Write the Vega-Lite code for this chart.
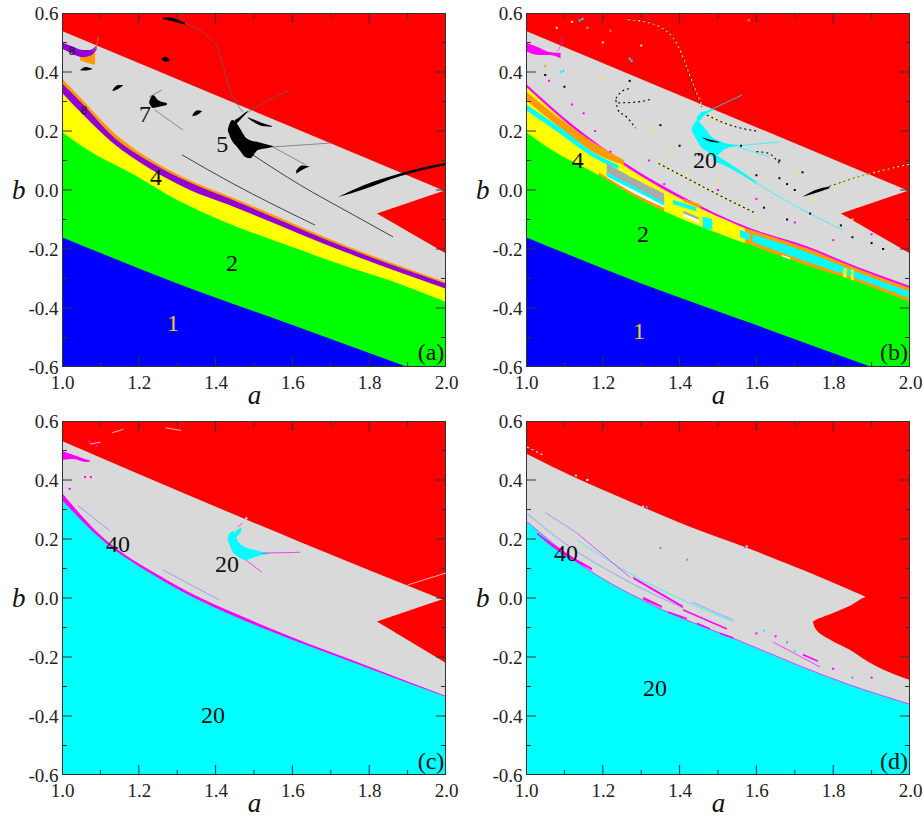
{"$schema":"https://vega.github.io/schema/vega-lite/v6.json","background":"white","padding":{"left":11,"top":4,"right":0,"bottom":0},"config":{"view":{"stroke":null},"header":{"labels":false,"title":null,"labelFontSize":0,"labelPadding":0,"titleFontSize":0,"titlePadding":0,"labelColor":"transparent"},"facet":{"spacing":0},"axis":{"labelFont":"Liberation Serif","titleFont":"Liberation Serif","labelFontSize":19,"titleFontSize":27,"titleFontStyle":"italic","titleFontWeight":"normal","labelColor":"#222","titleColor":"#111","ticks":true,"tickColor":"#000000","domainColor":"#555555","grid":false}},"transform":[{"flatten":["p"]}],"data":{"values":[
{"p":"a","r":"region","i":"a0","k":"div","a":1,"l":-0.6,"h":0.6},{"p":"a","r":"region","i":"a0","k":"div","a":2,"l":-0.6,"h":0.6},
{"p":"a","r":"region","i":"a1","k":"chaos","a":1,"l":-0.6,"h":0.539},{"p":"a","r":"region","i":"a1","k":"chaos","a":2,"l":-0.6,"h":-0.005},
{"p":"a","r":"region","i":"a2","k":"div","a":1.82,"l":-0.08,"h":-0.08},{"p":"a","r":"region","i":"a2","k":"div","a":2,"l":-0.215,"h":0.0},
{"p":"a","r":"region","i":"a3","k":"p16","a":1,"l":-0.6,"h":0.378},{"p":"a","r":"region","i":"a3","k":"p16","a":1.055,"l":-0.6,"h":0.303},{"p":"a","r":"region","i":"a3","k":"p16","a":1.13,"l":-0.6,"h":0.2},{"p":"a","r":"region","i":"a3","k":"p16","a":1.229,"l":-0.6,"h":0.105},{"p":"a","r":"region","i":"a3","k":"p16","a":1.33,"l":-0.6,"h":0.035},{"p":"a","r":"region","i":"a3","k":"p16","a":1.4375,"l":-0.6,"h":-0.022},{"p":"a","r":"region","i":"a3","k":"p16","a":1.742,"l":-0.6,"h":-0.19},{"p":"a","r":"region","i":"a3","k":"p16","a":2,"l":-0.6,"h":-0.312},
{"p":"a","r":"region","i":"a4","k":"p8","a":1,"l":-0.6,"h":0.362},{"p":"a","r":"region","i":"a4","k":"p8","a":1.055,"l":-0.6,"h":0.29},{"p":"a","r":"region","i":"a4","k":"p8","a":1.13,"l":-0.6,"h":0.185},{"p":"a","r":"region","i":"a4","k":"p8","a":1.229,"l":-0.6,"h":0.095},{"p":"a","r":"region","i":"a4","k":"p8","a":1.33,"l":-0.6,"h":0.027},{"p":"a","r":"region","i":"a4","k":"p8","a":1.4375,"l":-0.6,"h":-0.03},{"p":"a","r":"region","i":"a4","k":"p8","a":1.742,"l":-0.6,"h":-0.197},{"p":"a","r":"region","i":"a4","k":"p8","a":2,"l":-0.6,"h":-0.318},
{"p":"a","r":"region","i":"a5","k":"p4","a":1,"l":-0.6,"h":0.33},{"p":"a","r":"region","i":"a5","k":"p4","a":1.055,"l":-0.6,"h":0.255},{"p":"a","r":"region","i":"a5","k":"p4","a":1.13,"l":-0.6,"h":0.162},{"p":"a","r":"region","i":"a5","k":"p4","a":1.229,"l":-0.6,"h":0.072},{"p":"a","r":"region","i":"a5","k":"p4","a":1.33,"l":-0.6,"h":0.002},{"p":"a","r":"region","i":"a5","k":"p4","a":1.4375,"l":-0.6,"h":-0.052},{"p":"a","r":"region","i":"a5","k":"p4","a":1.742,"l":-0.6,"h":-0.213},{"p":"a","r":"region","i":"a5","k":"p4","a":2,"l":-0.6,"h":-0.335},
{"p":"a","r":"region","i":"a6","k":"p2","a":1,"l":-0.6,"h":0.197},{"p":"a","r":"region","i":"a6","k":"p2","a":1.055,"l":-0.6,"h":0.146},{"p":"a","r":"region","i":"a6","k":"p2","a":1.19,"l":-0.6,"h":0.05},{"p":"a","r":"region","i":"a6","k":"p2","a":1.3,"l":-0.6,"h":-0.034},{"p":"a","r":"region","i":"a6","k":"p2","a":1.4375,"l":-0.6,"h":-0.115},{"p":"a","r":"region","i":"a6","k":"p2","a":1.583,"l":-0.6,"h":-0.186},{"p":"a","r":"region","i":"a6","k":"p2","a":1.73,"l":-0.6,"h":-0.254},{"p":"a","r":"region","i":"a6","k":"p2","a":1.862,"l":-0.6,"h":-0.31},{"p":"a","r":"region","i":"a6","k":"p2","a":2,"l":-0.6,"h":-0.38},
{"p":"a","r":"region","i":"a7","k":"p1","a":1,"l":-0.6,"h":-0.16},{"p":"a","r":"region","i":"a7","k":"p1","a":1.297,"l":-0.6,"h":-0.315},{"p":"a","r":"region","i":"a7","k":"p1","a":1.6,"l":-0.6,"h":-0.458},{"p":"a","r":"region","i":"a7","k":"p1","a":1.9,"l":-0.6,"h":-0.6},
{"p":"a","r":"region","i":"a8","k":"p16","a":1.047,"l":0.44,"h":0.46},{"p":"a","r":"region","i":"a8","k":"p16","a":1.068,"l":0.43,"h":0.47},{"p":"a","r":"region","i":"a8","k":"p16","a":1.086,"l":0.425,"h":0.47},
{"p":"a","r":"region","i":"a9","k":"p8","a":1,"l":0.48,"h":0.5},{"p":"a","r":"region","i":"a9","k":"p8","a":1.021,"l":0.465,"h":0.49},{"p":"a","r":"region","i":"a9","k":"p8","a":1.055,"l":0.45,"h":0.475},{"p":"a","r":"region","i":"a9","k":"p8","a":1.073,"l":0.455,"h":0.475},{"p":"a","r":"region","i":"a9","k":"p8","a":1.09,"l":0.475,"h":0.49},
{"p":"a","r":"region","i":"a10","k":"p5","a":1.432,"l":0.2,"h":0.207},{"p":"a","r":"region","i":"a10","k":"p5","a":1.443,"l":0.166,"h":0.237},{"p":"a","r":"region","i":"a10","k":"p5","a":1.456,"l":0.146,"h":0.225},{"p":"a","r":"region","i":"a10","k":"p5","a":1.466,"l":0.129,"h":0.203},{"p":"a","r":"region","i":"a10","k":"p5","a":1.477,"l":0.112,"h":0.18},{"p":"a","r":"region","i":"a10","k":"p5","a":1.49,"l":0.108,"h":0.169},{"p":"a","r":"region","i":"a10","k":"p5","a":1.51,"l":0.136,"h":0.163},{"p":"a","r":"region","i":"a10","k":"p5","a":1.529,"l":0.141,"h":0.156},{"p":"a","r":"region","i":"a10","k":"p5","a":1.549,"l":0.146,"h":0.149},
{"p":"a","r":"region","i":"a11","k":"p5","a":1.45,"l":0.22,"h":0.237},{"p":"a","r":"region","i":"a11","k":"p5","a":1.466,"l":0.241,"h":0.251},{"p":"a","r":"region","i":"a11","k":"p5","a":1.477,"l":0.256,"h":0.263},{"p":"a","r":"region","i":"a11","k":"p5","a":1.484,"l":0.264,"h":0.268},
{"p":"a","r":"region","i":"a12","k":"p5","a":1.484,"l":0.244,"h":0.247},{"p":"a","r":"region","i":"a12","k":"p5","a":1.503,"l":0.227,"h":0.237},{"p":"a","r":"region","i":"a12","k":"p5","a":1.521,"l":0.217,"h":0.227},{"p":"a","r":"region","i":"a12","k":"p5","a":1.547,"l":0.214,"h":0.217},
{"p":"a","r":"region","i":"a13","k":"p5","a":1.227,"l":0.295,"h":0.3},{"p":"a","r":"region","i":"a13","k":"p5","a":1.237,"l":0.278,"h":0.322},{"p":"a","r":"region","i":"a13","k":"p5","a":1.25,"l":0.281,"h":0.305},{"p":"a","r":"region","i":"a13","k":"p5","a":1.273,"l":0.288,"h":0.295},
{"p":"a","r":"region","i":"a14","k":"p5","a":1.719,"l":-0.024,"h":-0.024},{"p":"a","r":"region","i":"a14","k":"p5","a":1.784,"l":0.002,"h":0.015},{"p":"a","r":"region","i":"a14","k":"p5","a":1.88,"l":0.047,"h":0.056},{"p":"a","r":"region","i":"a14","k":"p5","a":2,"l":0.085,"h":0.092},
{"p":"a","r":"region","i":"a15","k":"p5","a":1.263,"l":0.58,"h":0.585},{"p":"a","r":"region","i":"a15","k":"p5","a":1.28,"l":0.575,"h":0.585},{"p":"a","r":"region","i":"a15","k":"p5","a":1.32,"l":0.56,"h":0.566},
{"p":"a","r":"region","i":"b1","k":"p5","a":1.258,"l":0.444,"h":0.444},{"p":"a","r":"region","i":"b1","k":"p5","a":1.27,"l":0.435,"h":0.452},{"p":"a","r":"region","i":"b1","k":"p5","a":1.282,"l":0.44,"h":0.44},
{"p":"a","r":"region","i":"b2","k":"p5","a":1.048,"l":0.405,"h":0.408},{"p":"a","r":"region","i":"b2","k":"p5","a":1.0625,"l":0.405,"h":0.417},{"p":"a","r":"region","i":"b2","k":"p5","a":1.08,"l":0.41,"h":0.41},
{"p":"a","r":"region","i":"b3","k":"p5","a":1.132,"l":0.335,"h":0.34},{"p":"a","r":"region","i":"b3","k":"p5","a":1.146,"l":0.342,"h":0.356},{"p":"a","r":"region","i":"b3","k":"p5","a":1.16,"l":0.355,"h":0.355},
{"p":"a","r":"region","i":"b4","k":"p5","a":1.34,"l":0.25,"h":0.255},{"p":"a","r":"region","i":"b4","k":"p5","a":1.352,"l":0.254,"h":0.27},{"p":"a","r":"region","i":"b4","k":"p5","a":1.365,"l":0.268,"h":0.268},
{"p":"a","r":"region","i":"b5","k":"p5","a":1.61,"l":0.055,"h":0.066},{"p":"a","r":"region","i":"b5","k":"p5","a":1.625,"l":0.068,"h":0.083},{"p":"a","r":"region","i":"b5","k":"p5","a":1.645,"l":0.08,"h":0.08},
{"p":"a","r":"curve","i":"t1","k":"p5","a":1.3125,"b":0.119},{"p":"a","r":"curve","i":"t1","k":"p5","a":1.4375,"b":0.027},{"p":"a","r":"curve","i":"t1","k":"p5","a":1.659,"b":-0.119},
{"p":"a","r":"curve","i":"t2","k":"p5","a":1.49,"b":0.125},{"p":"a","r":"curve","i":"t2","k":"p5","a":1.62,"b":0.017},{"p":"a","r":"curve","i":"t2","k":"p5","a":1.75,"b":-0.078},{"p":"a","r":"curve","i":"t2","k":"p5","a":1.862,"b":-0.159},
{"p":"a","r":"curve","i":"t3","k":"faint","a":1.32,"b":0.565},{"p":"a","r":"curve","i":"t3","k":"faint","a":1.38,"b":0.52},{"p":"a","r":"curve","i":"t3","k":"faint","a":1.404,"b":0.485},{"p":"a","r":"curve","i":"t3","k":"faint","a":1.4375,"b":0.339},{"p":"a","r":"curve","i":"t3","k":"faint","a":1.471,"b":0.264},
{"p":"a","r":"curve","i":"t4","k":"faint","a":1.484,"b":0.264},{"p":"a","r":"curve","i":"t4","k":"faint","a":1.529,"b":0.298},{"p":"a","r":"curve","i":"t4","k":"faint","a":1.594,"b":0.339},
{"p":"a","r":"curve","i":"t5","k":"faint","a":1.549,"b":0.146},{"p":"a","r":"curve","i":"t5","k":"faint","a":1.698,"b":0.159},
{"p":"a","r":"curve","i":"t6","k":"faint","a":1.549,"b":0.146},{"p":"a","r":"curve","i":"t6","k":"faint","a":1.635,"b":0.085},
{"p":"a","r":"curve","i":"t7","k":"faint","a":1.242,"b":0.271},{"p":"a","r":"curve","i":"t7","k":"faint","a":1.315,"b":0.203},
{"p":"a","r":"curve","i":"t8","k":"faint","a":1.227,"b":0.315},{"p":"a","r":"curve","i":"t8","k":"faint","a":1.26,"b":0.339},
{"p":"a","r":"curve","i":"t9","k":"p16","a":1.08,"b":0.47},{"p":"a","r":"curve","i":"t9","k":"p16","a":1.09,"b":0.49},{"p":"a","r":"curve","i":"t9","k":"p16","a":1.095,"b":0.52},
{"p":"a","r":"label","t":"8","a":1.026,"b":0.47,"s":"small"},{"p":"a","r":"label","t":"8","a":1.057,"b":0.271,"s":"small"},{"p":"a","r":"label","t":"7","a":1.216,"b":0.254,"s":"big"},{"p":"a","r":"label","t":"5","a":1.417,"b":0.153,"s":"big"},{"p":"a","r":"label","t":"4","a":1.245,"b":0.04,"s":"big"},{"p":"a","r":"label","t":"2","a":1.443,"b":-0.25,"s":"big"},{"p":"a","r":"label","t":"1","a":1.289,"b":-0.454,"s":"big"},{"p":"a","r":"label","t":"(a)","a":1.961,"b":-0.553,"s":"big"},

{"p":"b","r":"region","i":"c0","k":"div","a":1,"l":-0.6,"h":0.6},{"p":"b","r":"region","i":"c0","k":"div","a":2,"l":-0.6,"h":0.6},
{"p":"b","r":"region","i":"c1","k":"chaos","a":1,"l":-0.6,"h":0.539},{"p":"b","r":"region","i":"c1","k":"chaos","a":2,"l":-0.6,"h":-0.005},
{"p":"b","r":"region","i":"c2","k":"div","a":1.82,"l":-0.08,"h":-0.08},{"p":"b","r":"region","i":"c2","k":"div","a":2,"l":-0.215,"h":0.0},
{"p":"b","r":"region","i":"c3","k":"p40","a":1,"l":-0.6,"h":0.36},{"p":"b","r":"region","i":"c3","k":"p40","a":1.128,"l":-0.6,"h":0.214},{"p":"b","r":"region","i":"c3","k":"p40","a":1.26,"l":-0.6,"h":0.09},{"p":"b","r":"region","i":"c3","k":"p40","a":1.39,"l":-0.6,"h":-0.01},{"p":"b","r":"region","i":"c3","k":"p40","a":1.583,"l":-0.6,"h":-0.129},{"p":"b","r":"region","i":"c3","k":"p40","a":1.73,"l":-0.6,"h":-0.19},{"p":"b","r":"region","i":"c3","k":"p40","a":1.862,"l":-0.6,"h":-0.26},{"p":"b","r":"region","i":"c3","k":"p40","a":2,"l":-0.6,"h":-0.325},
{"p":"b","r":"region","i":"c4","k":"p4","a":1,"l":-0.6,"h":0.35},{"p":"b","r":"region","i":"c4","k":"p4","a":1.128,"l":-0.6,"h":0.204},{"p":"b","r":"region","i":"c4","k":"p4","a":1.26,"l":-0.6,"h":0.08},{"p":"b","r":"region","i":"c4","k":"p4","a":1.39,"l":-0.6,"h":-0.02},{"p":"b","r":"region","i":"c4","k":"p4","a":1.6,"l":-0.6,"h":-0.145},
{"p":"b","r":"region","i":"c5","k":"p16","a":1.57,"l":-0.6,"h":-0.13},{"p":"b","r":"region","i":"c5","k":"p16","a":1.73,"l":-0.6,"h":-0.197},{"p":"b","r":"region","i":"c5","k":"p16","a":1.862,"l":-0.6,"h":-0.266},{"p":"b","r":"region","i":"c5","k":"p16","a":2,"l":-0.6,"h":-0.332},
{"p":"b","r":"region","i":"c6","k":"p20","a":1.59,"l":-0.6,"h":-0.15},{"p":"b","r":"region","i":"c6","k":"p20","a":1.73,"l":-0.6,"h":-0.21},{"p":"b","r":"region","i":"c6","k":"p20","a":1.862,"l":-0.6,"h":-0.278},{"p":"b","r":"region","i":"c6","k":"p20","a":2,"l":-0.6,"h":-0.345},
{"p":"b","r":"region","i":"c7","k":"p16","a":1.59,"l":-0.6,"h":-0.176},{"p":"b","r":"region","i":"c7","k":"p16","a":1.73,"l":-0.6,"h":-0.242},{"p":"b","r":"region","i":"c7","k":"p16","a":1.862,"l":-0.6,"h":-0.3},{"p":"b","r":"region","i":"c7","k":"p16","a":2,"l":-0.6,"h":-0.368},
{"p":"b","r":"region","i":"c8","k":"p16","a":1,"l":0.305,"h":0.335},{"p":"b","r":"region","i":"c8","k":"p16","a":1.086,"l":0.214,"h":0.244},{"p":"b","r":"region","i":"c8","k":"p16","a":1.174,"l":0.129,"h":0.163},{"p":"b","r":"region","i":"c8","k":"p16","a":1.255,"l":0.085,"h":0.102},
{"p":"b","r":"region","i":"c9","k":"p20","a":1,"l":0.27,"h":0.29},{"p":"b","r":"region","i":"c9","k":"p20","a":1.086,"l":0.193,"h":0.214},{"p":"b","r":"region","i":"c9","k":"p20","a":1.174,"l":0.112,"h":0.129},{"p":"b","r":"region","i":"c9","k":"p20","a":1.24,"l":0.07,"h":0.085},
{"p":"b","r":"region","i":"d1","k":"p32","a":1.21,"l":0.06,"h":0.09},{"p":"b","r":"region","i":"d1","k":"p32","a":1.28,"l":0.01,"h":0.04},{"p":"b","r":"region","i":"d1","k":"p32","a":1.36,"l":-0.045,"h":-0.012},
{"p":"b","r":"region","i":"d2","k":"p20","a":1.21,"l":0.045,"h":0.06},{"p":"b","r":"region","i":"d2","k":"p20","a":1.28,"l":-0.002,"h":0.012},{"p":"b","r":"region","i":"d2","k":"p20","a":1.36,"l":-0.056,"h":-0.042},
{"p":"b","r":"region","i":"d3","k":"p64","a":1.21,"l":0.03,"h":0.047},{"p":"b","r":"region","i":"d3","k":"p64","a":1.28,"l":-0.015,"h":0.0},{"p":"b","r":"region","i":"d3","k":"p64","a":1.36,"l":-0.068,"h":-0.053},
{"p":"b","r":"region","i":"d4","k":"p16","a":1.19,"l":0.03,"h":0.06},{"p":"b","r":"region","i":"d4","k":"p16","a":1.28,"l":-0.03,"h":-0.01},{"p":"b","r":"region","i":"d4","k":"p16","a":1.36,"l":-0.085,"h":-0.06},
{"p":"b","r":"region","i":"d5","k":"p20","a":1.383,"l":-0.048,"h":-0.034},{"p":"b","r":"region","i":"d5","k":"p20","a":1.443,"l":-0.072,"h":-0.058},
{"p":"b","r":"region","i":"d6","k":"p16","a":1.41,"l":-0.04,"h":-0.03},{"p":"b","r":"region","i":"d6","k":"p16","a":1.455,"l":-0.062,"h":-0.05},
{"p":"b","r":"region","i":"d7","k":"p32","a":1.41,"l":-0.08,"h":-0.07},{"p":"b","r":"region","i":"d7","k":"p32","a":1.45,"l":-0.102,"h":-0.092},
{"p":"b","r":"region","i":"d8","k":"p64","a":1.41,"l":-0.09,"h":-0.08},{"p":"b","r":"region","i":"d8","k":"p64","a":1.45,"l":-0.112,"h":-0.102},
{"p":"b","r":"region","i":"d9","k":"p20","a":1.46,"l":-0.13,"h":-0.09},{"p":"b","r":"region","i":"d9","k":"p20","a":1.485,"l":-0.135,"h":-0.098},
{"p":"b","r":"region","i":"d10","k":"p16","a":1.46,"l":-0.142,"h":-0.13},{"p":"b","r":"region","i":"d10","k":"p16","a":1.505,"l":-0.16,"h":-0.148},
{"p":"b","r":"region","i":"d11","k":"p20","a":1.557,"l":-0.16,"h":-0.135},{"p":"b","r":"region","i":"d11","k":"p20","a":1.583,"l":-0.172,"h":-0.148},
{"p":"b","r":"region","i":"d12","k":"p4","a":1.826,"l":-0.31,"h":-0.265},{"p":"b","r":"region","i":"d12","k":"p4","a":1.835,"l":-0.31,"h":-0.265},
{"p":"b","r":"region","i":"d13","k":"p4","a":1.846,"l":-0.32,"h":-0.27},{"p":"b","r":"region","i":"d13","k":"p4","a":1.853,"l":-0.32,"h":-0.27},
{"p":"b","r":"region","i":"d14","k":"p64","a":1.667,"l":-0.237,"h":-0.22},{"p":"b","r":"region","i":"d14","k":"p64","a":1.688,"l":-0.245,"h":-0.23},
{"p":"b","r":"region","i":"c10","k":"p2","a":1,"l":-0.6,"h":0.197},{"p":"b","r":"region","i":"c10","k":"p2","a":1.055,"l":-0.6,"h":0.146},{"p":"b","r":"region","i":"c10","k":"p2","a":1.19,"l":-0.6,"h":0.05},{"p":"b","r":"region","i":"c10","k":"p2","a":1.3,"l":-0.6,"h":-0.034},{"p":"b","r":"region","i":"c10","k":"p2","a":1.4375,"l":-0.6,"h":-0.115},{"p":"b","r":"region","i":"c10","k":"p2","a":1.583,"l":-0.6,"h":-0.186},{"p":"b","r":"region","i":"c10","k":"p2","a":1.73,"l":-0.6,"h":-0.254},{"p":"b","r":"region","i":"c10","k":"p2","a":1.862,"l":-0.6,"h":-0.31},{"p":"b","r":"region","i":"c10","k":"p2","a":2,"l":-0.6,"h":-0.38},
{"p":"b","r":"region","i":"c11","k":"p1","a":1,"l":-0.6,"h":-0.16},{"p":"b","r":"region","i":"c11","k":"p1","a":1.297,"l":-0.6,"h":-0.315},{"p":"b","r":"region","i":"c11","k":"p1","a":1.6,"l":-0.6,"h":-0.458},{"p":"b","r":"region","i":"c11","k":"p1","a":1.9,"l":-0.6,"h":-0.6},
{"p":"b","r":"region","i":"e1","k":"p40","a":1,"l":0.47,"h":0.5},{"p":"b","r":"region","i":"e1","k":"p40","a":1.03,"l":0.458,"h":0.485},{"p":"b","r":"region","i":"e1","k":"p40","a":1.06,"l":0.458,"h":0.468},{"p":"b","r":"region","i":"e1","k":"p40","a":1.09,"l":0.447,"h":0.464},
{"p":"b","r":"region","i":"e2","k":"p20","a":1.432,"l":0.2,"h":0.21},{"p":"b","r":"region","i":"e2","k":"p20","a":1.445,"l":0.169,"h":0.235},{"p":"b","r":"region","i":"e2","k":"p20","a":1.458,"l":0.142,"h":0.22},{"p":"b","r":"region","i":"e2","k":"p20","a":1.471,"l":0.132,"h":0.2},{"p":"b","r":"region","i":"e2","k":"p20","a":1.487,"l":0.112,"h":0.176},{"p":"b","r":"region","i":"e2","k":"p20","a":1.505,"l":0.125,"h":0.166},{"p":"b","r":"region","i":"e2","k":"p20","a":1.518,"l":0.139,"h":0.159},{"p":"b","r":"region","i":"e2","k":"p20","a":1.552,"l":0.149,"h":0.153},
{"p":"b","r":"region","i":"e3","k":"p20","a":1.445,"l":0.225,"h":0.245},{"p":"b","r":"region","i":"e3","k":"p20","a":1.458,"l":0.244,"h":0.264},{"p":"b","r":"region","i":"e3","k":"p20","a":1.471,"l":0.259,"h":0.268},{"p":"b","r":"region","i":"e3","k":"p20","a":1.487,"l":0.27,"h":0.276},
{"p":"b","r":"region","i":"e4","k":"p20","a":1.487,"l":0.1,"h":0.125},{"p":"b","r":"region","i":"e4","k":"p20","a":1.53,"l":0.075,"h":0.09},{"p":"b","r":"region","i":"e4","k":"p20","a":1.6,"l":0.02,"h":0.028},
{"p":"b","r":"region","i":"e5","k":"p5","a":1.457,"l":0.18,"h":0.18},{"p":"b","r":"region","i":"e5","k":"p5","a":1.48,"l":0.164,"h":0.17},{"p":"b","r":"region","i":"e5","k":"p5","a":1.503,"l":0.16,"h":0.163},
{"p":"b","r":"region","i":"e6","k":"p5","a":1.719,"l":-0.024,"h":-0.024},{"p":"b","r":"region","i":"e6","k":"p5","a":1.75,"l":-0.012,"h":-0.002},{"p":"b","r":"region","i":"e6","k":"p5","a":1.79,"l":0.006,"h":0.012},
{"p":"b","r":"curve","i":"u1","k":"p20","a":1.6,"b":0.024},{"p":"b","r":"curve","i":"u1","k":"p20","a":1.6875,"b":-0.044},{"p":"b","r":"curve","i":"u1","k":"p20","a":1.826,"b":-0.136},
{"p":"b","r":"curve","i":"u2","k":"p20","a":1.487,"b":0.276},{"p":"b","r":"curve","i":"u2","k":"p20","a":1.5625,"b":0.322},
{"p":"b","r":"curve","i":"u3","k":"p20","a":1.552,"b":0.15},{"p":"b","r":"curve","i":"u3","k":"p20","a":1.66,"b":0.163},
{"p":"b","r":"curve","i":"u4","k":"p20","a":1.552,"b":0.146},{"p":"b","r":"curve","i":"u4","k":"p20","a":1.635,"b":0.112},
{"p":"b","r":"dots","i":"v1","k":"p5","a":1.266,"b":0.58},{"p":"b","r":"dots","i":"v1","k":"p5","a":1.341,"b":0.56},{"p":"b","r":"dots","i":"v1","k":"p5","a":1.393,"b":0.498},{"p":"b","r":"dots","i":"v1","k":"p5","a":1.435,"b":0.349},{"p":"b","r":"dots","i":"v1","k":"p5","a":1.458,"b":0.281},
{"p":"b","r":"dots","i":"v2","k":"p4","a":1.266,"b":0.578},{"p":"b","r":"dots","i":"v2","k":"p4","a":1.341,"b":0.558},{"p":"b","r":"dots","i":"v2","k":"p4","a":1.393,"b":0.496},{"p":"b","r":"dots","i":"v2","k":"p4","a":1.438,"b":0.349},{"p":"b","r":"dots","i":"v2","k":"p4","a":1.46,"b":0.281},
{"p":"b","r":"dots","i":"v3","k":"p4","a":1.341,"b":0.092},{"p":"b","r":"dots","i":"v3","k":"p4","a":1.427,"b":0.034},{"p":"b","r":"dots","i":"v3","k":"p4","a":1.487,"b":-0.007},{"p":"b","r":"dots","i":"v3","k":"p4","a":1.6,"b":-0.078},
{"p":"b","r":"dots","i":"v4","k":"p5","a":1.345,"b":0.09},{"p":"b","r":"dots","i":"v4","k":"p5","a":1.43,"b":0.032},{"p":"b","r":"dots","i":"v4","k":"p5","a":1.49,"b":-0.009},{"p":"b","r":"dots","i":"v4","k":"p5","a":1.6,"b":-0.08},
{"p":"b","r":"dots","i":"v5","k":"p5","a":1.471,"b":0.254},{"p":"b","r":"dots","i":"v5","k":"p5","a":1.531,"b":0.22},{"p":"b","r":"dots","i":"v5","k":"p5","a":1.6,"b":0.2},
{"p":"b","r":"dots","i":"v6","k":"p4","a":1.475,"b":0.25},{"p":"b","r":"dots","i":"v6","k":"p4","a":1.535,"b":0.218},
{"p":"b","r":"dots","i":"v7","k":"p5","a":1.79,"b":0.012},{"p":"b","r":"dots","i":"v7","k":"p5","a":1.88,"b":0.05},{"p":"b","r":"dots","i":"v7","k":"p5","a":2,"b":0.09},
{"p":"b","r":"dots","i":"v8","k":"p4","a":1.792,"b":0.01},{"p":"b","r":"dots","i":"v8","k":"p4","a":1.882,"b":0.05},{"p":"b","r":"dots","i":"v8","k":"p4","a":2,"b":0.088},
{"p":"b","r":"dots","i":"v9","k":"p5","a":1.234,"b":0.305},{"p":"b","r":"dots","i":"v9","k":"p5","a":1.24,"b":0.27},{"p":"b","r":"dots","i":"v9","k":"p5","a":1.26,"b":0.25},{"p":"b","r":"dots","i":"v9","k":"p5","a":1.285,"b":0.21},
{"p":"b","r":"dots","i":"v10","k":"p5","a":1.234,"b":0.31},{"p":"b","r":"dots","i":"v10","k":"p5","a":1.25,"b":0.335},{"p":"b","r":"dots","i":"v10","k":"p5","a":1.275,"b":0.345},
{"p":"b","r":"dots","i":"v11","k":"p5","a":1.24,"b":0.295},{"p":"b","r":"dots","i":"v11","k":"p5","a":1.3,"b":0.3},{"p":"b","r":"dots","i":"v11","k":"p5","a":1.33,"b":0.31},
{"p":"b","r":"dots","i":"v12","k":"p5","a":1.6,"b":0.13},{"p":"b","r":"dots","i":"v12","k":"p5","a":1.63,"b":0.125},{"p":"b","r":"dots","i":"v12","k":"p5","a":1.66,"b":0.09},
{"p":"b","r":"curve","i":"v13","k":"p40","a":1.08,"b":0.47},{"p":"b","r":"curve","i":"v13","k":"p40","a":1.09,"b":0.49},{"p":"b","r":"curve","i":"v13","k":"p40","a":1.095,"b":0.52},
{"p":"b","r":"speck","k":"p5","a":1.05,"b":0.39},{"p":"b","r":"speck","k":"p5","a":1.1,"b":0.35},{"p":"b","r":"speck","k":"p5","a":1.27,"b":0.37},{"p":"b","r":"speck","k":"p5","a":1.35,"b":0.22},{"p":"b","r":"speck","k":"p5","a":1.4,"b":0.15},{"p":"b","r":"speck","k":"p5","a":1.45,"b":0.12},{"p":"b","r":"speck","k":"p5","a":1.56,"b":0.15},{"p":"b","r":"speck","k":"p5","a":1.66,"b":0.1},{"p":"b","r":"speck","k":"p5","a":1.72,"b":0.06},{"p":"b","r":"speck","k":"p5","a":1.6,"b":0.05},{"p":"b","r":"speck","k":"p5","a":1.66,"b":0.04},{"p":"b","r":"speck","k":"p5","a":1.68,"b":0.02},{"p":"b","r":"speck","k":"p5","a":1.7,"b":0.0},{"p":"b","r":"speck","k":"p5","a":1.62,"b":-0.06},{"p":"b","r":"speck","k":"p5","a":1.68,"b":-0.1},{"p":"b","r":"speck","k":"p5","a":1.74,"b":-0.08},{"p":"b","r":"speck","k":"p5","a":1.82,"b":-0.12},{"p":"b","r":"speck","k":"p5","a":1.85,"b":-0.16},{"p":"b","r":"speck","k":"p5","a":1.9,"b":-0.18},{"p":"b","r":"speck","k":"p5","a":1.93,"b":-0.2},
{"p":"b","r":"speck","k":"p40","a":1.18,"b":0.2},{"p":"b","r":"speck","k":"p40","a":1.22,"b":0.13},{"p":"b","r":"speck","k":"p40","a":1.32,"b":0.1},{"p":"b","r":"speck","k":"p40","a":1.36,"b":0.02},{"p":"b","r":"speck","k":"p40","a":1.5,"b":0.0},{"p":"b","r":"speck","k":"p40","a":1.6,"b":-0.03},{"p":"b","r":"speck","k":"p40","a":1.7,"b":-0.11},{"p":"b","r":"speck","k":"p40","a":1.8,"b":-0.17},{"p":"b","r":"speck","k":"p40","a":1.12,"b":0.29},{"p":"b","r":"speck","k":"p40","a":1.15,"b":0.26},{"p":"b","r":"speck","k":"p40","a":1.9,"b":-0.15},{"p":"b","r":"speck","k":"p40","a":1.06,"b":0.37},
{"p":"b","r":"speck","k":"p4","a":1.33,"b":0.21},{"p":"b","r":"speck","k":"p4","a":1.2,"b":0.38},{"p":"b","r":"speck","k":"p4","a":1.38,"b":0.12},{"p":"b","r":"speck","k":"p4","a":1.42,"b":0.05},{"p":"b","r":"speck","k":"p4","a":1.5,"b":0.03},{"p":"b","r":"speck","k":"p4","a":1.7,"b":0.06},{"p":"b","r":"speck","k":"p4","a":1.75,"b":-0.04},{"p":"b","r":"speck","k":"p4","a":1.6,"b":-0.1},{"p":"b","r":"speck","k":"p4","a":1.85,"b":-0.1},{"p":"b","r":"speck","k":"p4","a":1.08,"b":0.55},{"p":"b","r":"speck","k":"p4","a":1.12,"b":0.57},{"p":"b","r":"speck","k":"p4","a":1.2,"b":0.5},{"p":"b","r":"speck","k":"p4","a":1.3,"b":0.49},{"p":"b","r":"speck","k":"p16","a":1.16,"b":0.55},{"p":"b","r":"speck","k":"p16","a":1.22,"b":0.54},{"p":"b","r":"speck","k":"p16","a":1.58,"b":0.575},{"p":"b","r":"speck","k":"p16","a":1.05,"b":0.42},
{"p":"b","r":"speck","k":"p20","a":1.14,"b":0.575},{"p":"b","r":"speck","k":"p20","a":1.147,"b":0.58},{"p":"b","r":"speck","k":"p20","a":1.27,"b":0.445},{"p":"b","r":"speck","k":"p20","a":1.275,"b":0.438},{"p":"b","r":"speck","k":"p20","a":1.09,"b":0.4},{"p":"b","r":"speck","k":"p20","a":1.097,"b":0.403},
{"p":"b","r":"label","t":"4","a":1.135,"b":0.098,"s":"big"},{"p":"b","r":"label","t":"20","a":1.466,"b":0.098,"s":"big"},{"p":"b","r":"label","t":"2","a":1.305,"b":-0.153,"s":"big"},{"p":"b","r":"label","t":"1","a":1.294,"b":-0.48,"s":"big"},{"p":"b","r":"label","t":"(b)","a":1.958,"b":-0.553,"s":"big"},

{"p":"c","r":"region","i":"f0","k":"div","a":1,"l":-0.6,"h":0.6},{"p":"c","r":"region","i":"f0","k":"div","a":2,"l":-0.6,"h":0.6},
{"p":"c","r":"region","i":"f1","k":"chaos","a":1,"l":-0.6,"h":0.532},{"p":"c","r":"region","i":"f1","k":"chaos","a":1.62,"l":-0.6,"h":0.19},{"p":"c","r":"region","i":"f1","k":"chaos","a":2,"l":-0.6,"h":-0.01},
{"p":"c","r":"region","i":"f2","k":"div","a":1.82,"l":-0.08,"h":-0.08},{"p":"c","r":"region","i":"f2","k":"div","a":2,"l":-0.22,"h":0.0},
{"p":"c","r":"region","i":"f3","k":"p40","a":1,"l":-0.6,"h":0.356},{"p":"c","r":"region","i":"f3","k":"p40","a":1.099,"l":-0.6,"h":0.214},{"p":"c","r":"region","i":"f3","k":"p40","a":1.273,"l":-0.6,"h":0.061},{"p":"c","r":"region","i":"f3","k":"p40","a":1.534,"l":-0.6,"h":-0.098},{"p":"c","r":"region","i":"f3","k":"p40","a":1.75,"l":-0.6,"h":-0.208},{"p":"c","r":"region","i":"f3","k":"p40","a":2,"l":-0.6,"h":-0.332},
{"p":"c","r":"region","i":"f4","k":"p20","a":1,"l":-0.6,"h":0.332},{"p":"c","r":"region","i":"f4","k":"p20","a":1.099,"l":-0.6,"h":0.203},{"p":"c","r":"region","i":"f4","k":"p20","a":1.273,"l":-0.6,"h":0.051},{"p":"c","r":"region","i":"f4","k":"p20","a":1.534,"l":-0.6,"h":-0.108},{"p":"c","r":"region","i":"f4","k":"p20","a":1.75,"l":-0.6,"h":-0.214},{"p":"c","r":"region","i":"f4","k":"p20","a":2,"l":-0.6,"h":-0.335},
{"p":"c","r":"region","i":"f5","k":"p40","a":1,"l":0.468,"h":0.498},{"p":"c","r":"region","i":"f5","k":"p40","a":1.03,"l":0.471,"h":0.485},{"p":"c","r":"region","i":"f5","k":"p40","a":1.06,"l":0.461,"h":0.471},{"p":"c","r":"region","i":"f5","k":"p40","a":1.073,"l":0.463,"h":0.466},
{"p":"c","r":"region","i":"f6","k":"p20","a":1.432,"l":0.197,"h":0.21},{"p":"c","r":"region","i":"f6","k":"p20","a":1.445,"l":0.156,"h":0.227},{"p":"c","r":"region","i":"f6","k":"p20","a":1.456,"l":0.142,"h":0.197},{"p":"c","r":"region","i":"f6","k":"p20","a":1.477,"l":0.129,"h":0.173},{"p":"c","r":"region","i":"f6","k":"p20","a":1.503,"l":0.139,"h":0.163},{"p":"c","r":"region","i":"f6","k":"p20","a":1.52,"l":0.146,"h":0.156},{"p":"c","r":"region","i":"f6","k":"p20","a":1.54,"l":0.15,"h":0.153},
{"p":"c","r":"region","i":"f7","k":"p20","a":1.45,"l":0.2,"h":0.225},{"p":"c","r":"region","i":"f7","k":"p20","a":1.467,"l":0.225,"h":0.24},
{"p":"c","r":"curve","i":"g1","k":"p40","a":1.52,"b":0.152},{"p":"c","r":"curve","i":"g1","k":"p40","a":1.62,"b":0.155},
{"p":"c","r":"curve","i":"g2","k":"p40","a":1.477,"b":0.13},{"p":"c","r":"curve","i":"g2","k":"p40","a":1.52,"b":0.088},
{"p":"c","r":"curve","i":"g3","k":"p40","a":1.458,"b":0.24},{"p":"c","r":"curve","i":"g3","k":"p40","a":1.47,"b":0.255},
{"p":"c","r":"curve","i":"g4","k":"mix","a":1.04,"b":0.315},{"p":"c","r":"curve","i":"g4","k":"mix","a":1.125,"b":0.227},
{"p":"c","r":"curve","i":"g5","k":"mix","a":1.263,"b":0.095},{"p":"c","r":"curve","i":"g5","k":"mix","a":1.41,"b":-0.007},
{"p":"c","r":"curve","i":"g6","k":"p64","a":1.9,"b":0.044},{"p":"c","r":"curve","i":"g6","k":"p64","a":2,"b":0.085},
{"p":"c","r":"curve","i":"g7","k":"p64","a":1.13,"b":0.56},{"p":"c","r":"curve","i":"g7","k":"p64","a":1.16,"b":0.572},
{"p":"c","r":"curve","i":"g8","k":"p64","a":1.27,"b":0.577},{"p":"c","r":"curve","i":"g8","k":"p64","a":1.31,"b":0.568},
{"p":"c","r":"curve","i":"g9","k":"p64","a":1.073,"b":0.522},{"p":"c","r":"curve","i":"g9","k":"p64","a":1.1,"b":0.528},
{"p":"c","r":"speck","k":"p40","a":1.07,"b":0.53},{"p":"c","r":"speck","k":"p40","a":1.09,"b":0.515},{"p":"c","r":"speck","k":"p40","a":1.06,"b":0.41},{"p":"c","r":"speck","k":"p40","a":1.075,"b":0.41},{"p":"c","r":"speck","k":"p40","a":1.02,"b":0.37},{"p":"c","r":"speck","k":"p64","a":1.48,"b":0.27},
{"p":"c","r":"label","t":"40","a":1.146,"b":0.18,"s":"big"},{"p":"c","r":"label","t":"20","a":1.43,"b":0.112,"s":"big"},{"p":"c","r":"label","t":"20","a":1.393,"b":-0.4,"s":"big"},{"p":"c","r":"label","t":"(c)","a":1.961,"b":-0.556,"s":"big"},

{"p":"d","r":"region","i":"h0","k":"div","a":1,"l":-0.6,"h":0.6},{"p":"d","r":"region","i":"h0","k":"div","a":2,"l":-0.6,"h":0.6},
{"p":"d","r":"region","i":"h1","k":"chaos","a":1,"l":-0.6,"h":0.49},{"p":"d","r":"region","i":"h1","k":"chaos","a":1.07,"l":-0.6,"h":0.444},{"p":"d","r":"region","i":"h1","k":"chaos","a":1.305,"l":-0.6,"h":0.308},{"p":"d","r":"region","i":"h1","k":"chaos","a":1.435,"l":-0.6,"h":0.237},{"p":"d","r":"region","i":"h1","k":"chaos","a":1.575,"l":-0.6,"h":0.17},{"p":"d","r":"region","i":"h1","k":"chaos","a":1.844,"l":-0.6,"h":0.027},{"p":"d","r":"region","i":"h1","k":"chaos","a":1.89,"l":-0.6,"h":0.0},{"p":"d","r":"region","i":"h1","k":"chaos","a":2,"l":-0.6,"h":-0.1},
{"p":"d","r":"region","i":"h2","k":"div","a":1.747,"l":-0.08,"h":-0.08},{"p":"d","r":"region","i":"h2","k":"div","a":1.752,"l":-0.1,"h":-0.076},{"p":"d","r":"region","i":"h2","k":"div","a":1.79,"l":-0.14,"h":-0.056},{"p":"d","r":"region","i":"h2","k":"div","a":1.844,"l":-0.176,"h":-0.026},{"p":"d","r":"region","i":"h2","k":"div","a":1.89,"l":-0.215,"h":0.005},{"p":"d","r":"region","i":"h2","k":"div","a":2,"l":-0.278,"h":0.01},
{"p":"d","r":"region","i":"h3","k":"p20","a":1,"l":-0.6,"h":0.26},{"p":"d","r":"region","i":"h3","k":"p20","a":1.158,"l":-0.6,"h":0.1},{"p":"d","r":"region","i":"h3","k":"p20","a":1.33,"l":-0.6,"h":-0.024},{"p":"d","r":"region","i":"h3","k":"p20","a":1.55,"l":-0.6,"h":-0.142},{"p":"d","r":"region","i":"h3","k":"p20","a":1.844,"l":-0.6,"h":-0.295},{"p":"d","r":"region","i":"h3","k":"p20","a":2,"l":-0.6,"h":-0.36},
{"p":"d","r":"region","i":"j1","k":"p40","a":1.029,"l":0.215,"h":0.222},{"p":"d","r":"region","i":"j1","k":"p40","a":1.096,"l":0.148,"h":0.16},{"p":"d","r":"region","i":"j1","k":"p40","a":1.172,"l":0.094,"h":0.102},
{"p":"d","r":"region","i":"j2","k":"p40","a":1.279,"l":0.064,"h":0.072},{"p":"d","r":"region","i":"j2","k":"p40","a":1.409,"l":-0.034,"h":-0.026},
{"p":"d","r":"region","i":"j3","k":"p40","a":1.305,"l":-0.005,"h":0.004},{"p":"d","r":"region","i":"j3","k":"p40","a":1.354,"l":-0.034,"h":-0.026},
{"p":"d","r":"region","i":"j4","k":"p40","a":1.409,"l":-0.043,"h":-0.037},{"p":"d","r":"region","i":"j4","k":"p40","a":1.523,"l":-0.108,"h":-0.102},
{"p":"d","r":"region","i":"j5","k":"p40","a":1.37,"l":-0.051,"h":-0.045},{"p":"d","r":"region","i":"j5","k":"p40","a":1.419,"l":-0.073,"h":-0.067},
{"p":"d","r":"region","i":"j6","k":"p40","a":1.445,"l":-0.089,"h":-0.083},{"p":"d","r":"region","i":"j6","k":"p40","a":1.479,"l":-0.108,"h":-0.102},
{"p":"d","r":"region","i":"j7","k":"p40","a":1.505,"l":-0.123,"h":-0.117},{"p":"d","r":"region","i":"j7","k":"p40","a":1.54,"l":-0.138,"h":-0.132},
{"p":"d","r":"region","i":"j8","k":"p40","a":1.721,"l":-0.195,"h":-0.189},{"p":"d","r":"region","i":"j8","k":"p40","a":1.76,"l":-0.217,"h":-0.211},
{"p":"d","r":"curve","i":"m1","k":"mix","a":1,"b":0.29},{"p":"d","r":"curve","i":"m1","k":"mix","a":1.096,"b":0.19},{"p":"d","r":"curve","i":"m1","k":"mix","a":1.245,"b":0.071},{"p":"d","r":"curve","i":"m1","k":"mix","a":1.409,"b":-0.034},
{"p":"d","r":"curve","i":"m2","k":"p20","a":1.133,"b":0.197},{"p":"d","r":"curve","i":"m2","k":"p20","a":1.245,"b":0.102},{"p":"d","r":"curve","i":"m2","k":"p20","a":1.42,"b":-0.014},{"p":"d","r":"curve","i":"m2","k":"p20","a":1.54,"b":-0.081},
{"p":"d","r":"curve","i":"m3","k":"p40","a":1.133,"b":0.22},{"p":"d","r":"curve","i":"m3","k":"p40","a":1.27,"b":0.071},
{"p":"d","r":"curve","i":"m4","k":"mix","a":1.432,"b":-0.014},{"p":"d","r":"curve","i":"m4","k":"mix","a":1.54,"b":-0.075},
{"p":"d","r":"curve","i":"m5","k":"p40","a":1.643,"b":-0.149},{"p":"d","r":"curve","i":"m5","k":"p40","a":1.766,"b":-0.234},
{"p":"d","r":"curve","i":"m6","k":"p40","a":1,"b":0.262},{"p":"d","r":"curve","i":"m6","k":"p40","a":1.158,"b":0.1},{"p":"d","r":"curve","i":"m6","k":"p40","a":1.33,"b":-0.024},{"p":"d","r":"curve","i":"m6","k":"p40","a":1.55,"b":-0.142},{"p":"d","r":"curve","i":"m6","k":"p40","a":1.844,"b":-0.295},{"p":"d","r":"curve","i":"m6","k":"p40","a":2,"b":-0.36},
{"p":"d","r":"curve","i":"m7","k":"mix","a":1.05,"b":0.29},{"p":"d","r":"curve","i":"m7","k":"mix","a":1.133,"b":0.22},
{"p":"d","r":"dots","i":"m8","k":"p64","a":1.003,"b":0.512},{"p":"d","r":"dots","i":"m8","k":"p64","a":1.044,"b":0.485},
{"p":"d","r":"speck","k":"chaos","a":1.305,"b":0.31},{"p":"d","r":"speck","k":"mix","a":1.315,"b":0.308},{"p":"d","r":"speck","k":"chaos","a":1.575,"b":0.175},{"p":"d","r":"speck","k":"mix","a":1.57,"b":0.172},{"p":"d","r":"speck","k":"chaos","a":1.13,"b":0.415},{"p":"d","r":"speck","k":"p64","a":1.16,"b":0.4},{"p":"d","r":"speck","k":"mix","a":1.42,"b":0.13},{"p":"d","r":"speck","k":"mix","a":1.35,"b":0.17},{"p":"d","r":"speck","k":"p40","a":1.6,"b":-0.12},{"p":"d","r":"speck","k":"p20","a":1.62,"b":-0.11},{"p":"d","r":"speck","k":"p40","a":1.65,"b":-0.13},{"p":"d","r":"speck","k":"mix","a":1.68,"b":-0.15},{"p":"d","r":"speck","k":"p20","a":1.7,"b":-0.18},{"p":"d","r":"speck","k":"p40","a":1.8,"b":-0.24},{"p":"d","r":"speck","k":"mix","a":1.85,"b":-0.27},{"p":"d","r":"speck","k":"p40","a":1.9,"b":-0.27},
{"p":"d","r":"label","t":"40","a":1.104,"b":0.149,"s":"big"},{"p":"d","r":"label","t":"20","a":1.336,"b":-0.308,"s":"big"},{"p":"d","r":"label","t":"(d)","a":1.958,"b":-0.556,"s":"big"},

{"p":["a","b","c","d"],"r":"region","i":"fb","k":"axis","a":1,"l":-0.6,"h":-0.597},{"p":["a","b","c","d"],"r":"region","i":"fb","k":"axis","a":2,"l":-0.6,"h":-0.597},
{"p":["a","b","c","d"],"r":"region","i":"ft","k":"axis","a":1,"l":0.597,"h":0.6},{"p":["a","b","c","d"],"r":"region","i":"ft","k":"axis","a":2,"l":0.597,"h":0.6},
{"p":["a","b","c","d"],"r":"region","i":"fl","k":"axis","a":1,"l":-0.6,"h":0.6},{"p":["a","b","c","d"],"r":"region","i":"fl","k":"axis","a":1.0026,"l":-0.6,"h":0.6},
{"p":["a","b","c","d"],"r":"region","i":"fr","k":"axis","a":1.9974,"l":-0.6,"h":0.6},{"p":["a","b","c","d"],"r":"region","i":"fr","k":"axis","a":2,"l":-0.6,"h":0.6},
{"p":["a","b","c","d"],"r":"region","i":"xb1","k":"axis","a":1.0987,"l":-0.6,"h":-0.583},{"p":["a","b","c","d"],"r":"region","i":"xb1","k":"axis","a":1.1013,"l":-0.6,"h":-0.583},
{"p":["a","b","c","d"],"r":"region","i":"xb2","k":"axis","a":1.1987,"l":-0.6,"h":-0.566},{"p":["a","b","c","d"],"r":"region","i":"xb2","k":"axis","a":1.2013,"l":-0.6,"h":-0.566},
{"p":["a","b","c","d"],"r":"region","i":"xb3","k":"axis","a":1.2987,"l":-0.6,"h":-0.583},{"p":["a","b","c","d"],"r":"region","i":"xb3","k":"axis","a":1.3013,"l":-0.6,"h":-0.583},
{"p":["a","b","c","d"],"r":"region","i":"xb4","k":"axis","a":1.3987,"l":-0.6,"h":-0.566},{"p":["a","b","c","d"],"r":"region","i":"xb4","k":"axis","a":1.4013,"l":-0.6,"h":-0.566},
{"p":["a","b","c","d"],"r":"region","i":"xb5","k":"axis","a":1.4987,"l":-0.6,"h":-0.583},{"p":["a","b","c","d"],"r":"region","i":"xb5","k":"axis","a":1.5013,"l":-0.6,"h":-0.583},
{"p":["a","b","c","d"],"r":"region","i":"xb6","k":"axis","a":1.5987,"l":-0.6,"h":-0.566},{"p":["a","b","c","d"],"r":"region","i":"xb6","k":"axis","a":1.6013,"l":-0.6,"h":-0.566},
{"p":["a","b","c","d"],"r":"region","i":"xb7","k":"axis","a":1.6987,"l":-0.6,"h":-0.583},{"p":["a","b","c","d"],"r":"region","i":"xb7","k":"axis","a":1.7013,"l":-0.6,"h":-0.583},
{"p":["a","b","c","d"],"r":"region","i":"xb8","k":"axis","a":1.7987,"l":-0.6,"h":-0.566},{"p":["a","b","c","d"],"r":"region","i":"xb8","k":"axis","a":1.8013,"l":-0.6,"h":-0.566},
{"p":["a","b","c","d"],"r":"region","i":"xb9","k":"axis","a":1.8987,"l":-0.6,"h":-0.583},{"p":["a","b","c","d"],"r":"region","i":"xb9","k":"axis","a":1.9013,"l":-0.6,"h":-0.583},
{"p":["a","b","c","d"],"r":"region","i":"xt1","k":"axis","a":1.0987,"l":0.583,"h":0.6},{"p":["a","b","c","d"],"r":"region","i":"xt1","k":"axis","a":1.1013,"l":0.583,"h":0.6},
{"p":["a","b","c","d"],"r":"region","i":"xt2","k":"axis","a":1.1987,"l":0.566,"h":0.6},{"p":["a","b","c","d"],"r":"region","i":"xt2","k":"axis","a":1.2013,"l":0.566,"h":0.6},
{"p":["a","b","c","d"],"r":"region","i":"xt3","k":"axis","a":1.2987,"l":0.583,"h":0.6},{"p":["a","b","c","d"],"r":"region","i":"xt3","k":"axis","a":1.3013,"l":0.583,"h":0.6},
{"p":["a","b","c","d"],"r":"region","i":"xt4","k":"axis","a":1.3987,"l":0.566,"h":0.6},{"p":["a","b","c","d"],"r":"region","i":"xt4","k":"axis","a":1.4013,"l":0.566,"h":0.6},
{"p":["a","b","c","d"],"r":"region","i":"xt5","k":"axis","a":1.4987,"l":0.583,"h":0.6},{"p":["a","b","c","d"],"r":"region","i":"xt5","k":"axis","a":1.5013,"l":0.583,"h":0.6},
{"p":["a","b","c","d"],"r":"region","i":"xt6","k":"axis","a":1.5987,"l":0.566,"h":0.6},{"p":["a","b","c","d"],"r":"region","i":"xt6","k":"axis","a":1.6013,"l":0.566,"h":0.6},
{"p":["a","b","c","d"],"r":"region","i":"xt7","k":"axis","a":1.6987,"l":0.583,"h":0.6},{"p":["a","b","c","d"],"r":"region","i":"xt7","k":"axis","a":1.7013,"l":0.583,"h":0.6},
{"p":["a","b","c","d"],"r":"region","i":"xt8","k":"axis","a":1.7987,"l":0.566,"h":0.6},{"p":["a","b","c","d"],"r":"region","i":"xt8","k":"axis","a":1.8013,"l":0.566,"h":0.6},
{"p":["a","b","c","d"],"r":"region","i":"xt9","k":"axis","a":1.8987,"l":0.583,"h":0.6},{"p":["a","b","c","d"],"r":"region","i":"xt9","k":"axis","a":1.9013,"l":0.583,"h":0.6},
{"p":["a","b","c","d"],"r":"region","i":"yl1","k":"axis","a":1,"l":-0.5017,"h":-0.4983},{"p":["a","b","c","d"],"r":"region","i":"yl1","k":"axis","a":1.013,"l":-0.5017,"h":-0.4983},
{"p":["a","b","c","d"],"r":"region","i":"yl2","k":"axis","a":1,"l":-0.4017,"h":-0.3983},{"p":["a","b","c","d"],"r":"region","i":"yl2","k":"axis","a":1.026,"l":-0.4017,"h":-0.3983},
{"p":["a","b","c","d"],"r":"region","i":"yl3","k":"axis","a":1,"l":-0.3017,"h":-0.2983},{"p":["a","b","c","d"],"r":"region","i":"yl3","k":"axis","a":1.013,"l":-0.3017,"h":-0.2983},
{"p":["a","b","c","d"],"r":"region","i":"yl4","k":"axis","a":1,"l":-0.2017,"h":-0.1983},{"p":["a","b","c","d"],"r":"region","i":"yl4","k":"axis","a":1.026,"l":-0.2017,"h":-0.1983},
{"p":["a","b","c","d"],"r":"region","i":"yl5","k":"axis","a":1,"l":-0.1017,"h":-0.0983},{"p":["a","b","c","d"],"r":"region","i":"yl5","k":"axis","a":1.013,"l":-0.1017,"h":-0.0983},
{"p":["a","b","c","d"],"r":"region","i":"yl6","k":"axis","a":1,"l":-0.0017,"h":0.0017},{"p":["a","b","c","d"],"r":"region","i":"yl6","k":"axis","a":1.026,"l":-0.0017,"h":0.0017},
{"p":["a","b","c","d"],"r":"region","i":"yl7","k":"axis","a":1,"l":0.0983,"h":0.1017},{"p":["a","b","c","d"],"r":"region","i":"yl7","k":"axis","a":1.013,"l":0.0983,"h":0.1017},
{"p":["a","b","c","d"],"r":"region","i":"yl8","k":"axis","a":1,"l":0.1983,"h":0.2017},{"p":["a","b","c","d"],"r":"region","i":"yl8","k":"axis","a":1.026,"l":0.1983,"h":0.2017},
{"p":["a","b","c","d"],"r":"region","i":"yl9","k":"axis","a":1,"l":0.2983,"h":0.3017},{"p":["a","b","c","d"],"r":"region","i":"yl9","k":"axis","a":1.013,"l":0.2983,"h":0.3017},
{"p":["a","b","c","d"],"r":"region","i":"yl10","k":"axis","a":1,"l":0.3983,"h":0.4017},{"p":["a","b","c","d"],"r":"region","i":"yl10","k":"axis","a":1.026,"l":0.3983,"h":0.4017},
{"p":["a","b","c","d"],"r":"region","i":"yl11","k":"axis","a":1,"l":0.4983,"h":0.5017},{"p":["a","b","c","d"],"r":"region","i":"yl11","k":"axis","a":1.013,"l":0.4983,"h":0.5017},
{"p":["a","b","c","d"],"r":"region","i":"yr1","k":"axis","a":1.987,"l":-0.5017,"h":-0.4983},{"p":["a","b","c","d"],"r":"region","i":"yr1","k":"axis","a":2,"l":-0.5017,"h":-0.4983},
{"p":["a","b","c","d"],"r":"region","i":"yr2","k":"axis","a":1.974,"l":-0.4017,"h":-0.3983},{"p":["a","b","c","d"],"r":"region","i":"yr2","k":"axis","a":2,"l":-0.4017,"h":-0.3983},
{"p":["a","b","c","d"],"r":"region","i":"yr3","k":"axis","a":1.987,"l":-0.3017,"h":-0.2983},{"p":["a","b","c","d"],"r":"region","i":"yr3","k":"axis","a":2,"l":-0.3017,"h":-0.2983},
{"p":["a","b","c","d"],"r":"region","i":"yr4","k":"axis","a":1.974,"l":-0.2017,"h":-0.1983},{"p":["a","b","c","d"],"r":"region","i":"yr4","k":"axis","a":2,"l":-0.2017,"h":-0.1983},
{"p":["a","b","c","d"],"r":"region","i":"yr5","k":"axis","a":1.987,"l":-0.1017,"h":-0.0983},{"p":["a","b","c","d"],"r":"region","i":"yr5","k":"axis","a":2,"l":-0.1017,"h":-0.0983},
{"p":["a","b","c","d"],"r":"region","i":"yr6","k":"axis","a":1.974,"l":-0.0017,"h":0.0017},{"p":["a","b","c","d"],"r":"region","i":"yr6","k":"axis","a":2,"l":-0.0017,"h":0.0017},
{"p":["a","b","c","d"],"r":"region","i":"yr7","k":"axis","a":1.987,"l":0.0983,"h":0.1017},{"p":["a","b","c","d"],"r":"region","i":"yr7","k":"axis","a":2,"l":0.0983,"h":0.1017},
{"p":["a","b","c","d"],"r":"region","i":"yr8","k":"axis","a":1.974,"l":0.1983,"h":0.2017},{"p":["a","b","c","d"],"r":"region","i":"yr8","k":"axis","a":2,"l":0.1983,"h":0.2017},
{"p":["a","b","c","d"],"r":"region","i":"yr9","k":"axis","a":1.987,"l":0.2983,"h":0.3017},{"p":["a","b","c","d"],"r":"region","i":"yr9","k":"axis","a":2,"l":0.2983,"h":0.3017},
{"p":["a","b","c","d"],"r":"region","i":"yr10","k":"axis","a":1.974,"l":0.3983,"h":0.4017},{"p":["a","b","c","d"],"r":"region","i":"yr10","k":"axis","a":2,"l":0.3983,"h":0.4017},
{"p":["a","b","c","d"],"r":"region","i":"yr11","k":"axis","a":1.987,"l":0.4983,"h":0.5017},{"p":["a","b","c","d"],"r":"region","i":"yr11","k":"axis","a":2,"l":0.4983,"h":0.5017}
]},
"facet":{"field":"p","type":"nominal","header":{"title":null,"labels":false,"labelFontSize":0,"labelPadding":0,"labelExpr":"''"}},
"columns":2,
"spacing":{"column":17,"row":4},
"resolve":{"axis":{"x":"independent","y":"independent"}},
"spec":{"width":384,"height":354,
"layer":[
{"transform":[{"filter":"datum.r==='region'"}],"mark":{"type":"area","clip":true,"interpolate":"monotone"},"encoding":{
"x":{"field":"a","type":"quantitative","scale":{"domain":[1,2]},"axis":{"orient":"bottom","title":"a","values":[1,1.2,1.4,1.6,1.8,2],"format":".1f","domain":false,"ticks":true,"offset":-10,"tickSize":10,"tickOpacity":0,"labelPadding":6,"titlePadding":-10,"labelFlush":false}},
"y":{"field":"l","type":"quantitative","scale":{"domain":[-0.6,0.6]},"axis":{"orient":"left","title":"b","titleAngle":0,"values":[-0.6,-0.4,-0.2,0,0.2,0.4,0.6],"labelExpr":"replace(format(datum.value,'.1f'),'\u2212','-')","domain":false,"ticks":true,"offset":-10,"tickSize":10,"tickOpacity":0,"labelPadding":4,"titlePadding":3,"titleAlign":"right","titleBaseline":"middle"}},
"y2":{"field":"h"},
"color":{"field":"k","type":"nominal","legend":null,"scale":{"domain":["p1","p2","p4","p8","p16","p32","p64","p20","p40","p5","chaos","div","mix","faint","axis"],"range":["#0000ff","#00ff00","#ffff00","#9400d3","#ff9a00","#a9a9a9","#ffffff","#00ffff","#ff00ff","#000000","#d9d9d9","#ff0000","#6f8cff","#666666","#333333"]}},
"detail":{"field":"i"}}},
{"transform":[{"filter":"datum.r==='curve'"}],"mark":{"type":"line","clip":true,"strokeWidth":0.7,"interpolate":"monotone"},"encoding":{
"x":{"field":"a","type":"quantitative","scale":{"domain":[1,2]}},
"y":{"field":"b","type":"quantitative","scale":{"domain":[-0.6,0.6]}},
"color":{"field":"k","type":"nominal","legend":null},"detail":{"field":"i"}}},
{"transform":[{"filter":"datum.r==='dots'"}],"mark":{"type":"line","clip":true,"strokeWidth":1.1,"strokeDash":[2,3],"interpolate":"monotone"},"encoding":{
"x":{"field":"a","type":"quantitative","scale":{"domain":[1,2]}},
"y":{"field":"b","type":"quantitative","scale":{"domain":[-0.6,0.6]}},
"color":{"field":"k","type":"nominal","legend":null},"detail":{"field":"i"}}},
{"transform":[{"filter":"datum.r==='speck'"}],"mark":{"type":"point","shape":"square","filled":true,"size":4,"opacity":1,"clip":true},"encoding":{
"x":{"field":"a","type":"quantitative","scale":{"domain":[1,2]}},
"y":{"field":"b","type":"quantitative","scale":{"domain":[-0.6,0.6]}},
"color":{"field":"k","type":"nominal","legend":null}}},
{"transform":[{"filter":"datum.r==='label' && datum.s==='big'"}],"mark":{"type":"text","font":"Liberation Serif","fontSize":24,"align":"center","baseline":"middle"},"encoding":{
"x":{"field":"a","type":"quantitative","scale":{"domain":[1,2]}},
"y":{"field":"b","type":"quantitative","scale":{"domain":[-0.6,0.6]}},
"text":{"field":"t"},
"color":{"condition":{"test":"datum.t==='1'","value":"#e6d21e"},"value":"#111111"}}},
{"transform":[{"filter":"datum.r==='label' && datum.s==='small'"}],"mark":{"type":"text","font":"Liberation Serif","fontSize":13,"align":"center","baseline":"middle","color":"#111111"},"encoding":{
"x":{"field":"a","type":"quantitative","scale":{"domain":[1,2]}},
"y":{"field":"b","type":"quantitative","scale":{"domain":[-0.6,0.6]}},
"text":{"field":"t"}}}
]}}
